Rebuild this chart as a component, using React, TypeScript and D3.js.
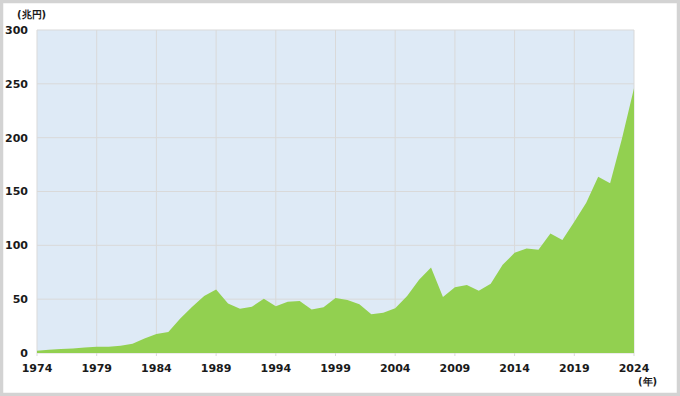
import React from "react";
import * as d3 from "d3";

const years: number[] = [
  1974, 1975, 1976, 1977, 1978, 1979, 1980, 1981, 1982, 1983,
  1984, 1985, 1986, 1987, 1988, 1989, 1990, 1991, 1992, 1993,
  1994, 1995, 1996, 1997, 1998, 1999, 2000, 2001, 2002, 2003,
  2004, 2005, 2006, 2007, 2008, 2009, 2010, 2011, 2012, 2013,
  2014, 2015, 2016, 2017, 2018, 2019, 2020, 2021, 2022, 2023, 2024,
];
const values: number[] = [
  2.2, 3, 3.8, 4.2, 5, 5.8, 5.8, 6.8, 8.6, 13.5,
  17.6, 19.5, 32, 43, 53, 59, 46, 41, 43, 50.5,
  43.5, 47.7, 48.4, 40.5, 42.5, 51, 49.3, 45.3, 36, 37.4,
  41.5, 53, 68, 79.5, 52, 61, 63.2, 57.8, 64.4, 82,
  93, 97, 96, 111, 105, 122, 139.5, 163.7, 157.6, 199.4, 245.8,
];
const xTicks: number[] = [1974, 1979, 1984, 1989, 1994, 1999, 2004, 2009, 2014, 2019, 2024];
const yTicks: number[] = [0, 50, 100, 150, 200, 250, 300];
const yUnit = "(兆円)";
const xUnit = "(年)";

const W = 680;
const H = 396;
const left = 37;
const right = 634;
const top = 30;
const bottom = 353;
const font = "'DejaVu Sans', Verdana, sans-serif";

export default function App() {
  const x = d3.scaleLinear().domain([1974, 2024]).range([left, right]);
  const y = d3.scaleLinear().domain([0, 300]).range([bottom, top]);
  const data = years.map((yr, i) => ({ yr, v: values[i] }));
  const area = d3
    .area<{ yr: number; v: number }>()
    .x((d) => x(d.yr))
    .y0(y(0))
    .y1((d) => y(d.v));

  return (
    <svg
      width={W}
      height={H}
      style={{ position: "fixed", left: 0, top: 0, display: "block" }}
      fontFamily={font}
    >
      <rect x={0} y={0} width={W} height={H} fill="#ffffff" />
      <rect x={1.5} y={1.5} width={W - 3} height={H - 3} fill="none" stroke="#d3d3d3" strokeWidth={3.5} />
      <rect x={left} y={top} width={right - left} height={bottom - top} fill="#deeaf6" />
      {yTicks.map((t) => (
        <line key={"gy" + t} x1={left} x2={right} y1={y(t)} y2={y(t)} stroke="#d9d9d9" strokeWidth={1} />
      ))}
      {xTicks.map((t) => (
        <line key={"gx" + t} x1={x(t)} x2={x(t)} y1={top} y2={bottom + 3} stroke="#d9d9d9" strokeWidth={1} />
      ))}
      <path d={area(data) || ""} fill="#92d050" />
      {yTicks.map((t) => (
        <text
          key={"ty" + t}
          x={28}
          y={y(t)}
          dy="0.36em"
          textAnchor="end"
          fontSize={11}
          fontWeight="bold"
          fill="#1a1a1a"
        >
          {t}
        </text>
      ))}
      {xTicks.map((t) => (
        <text
          key={"tx" + t}
          x={x(t)}
          y={372}
          textAnchor="middle"
          fontSize={11}
          fontWeight="bold"
          fill="#1a1a1a"
        >
          {t}
        </text>
      ))}
      <text x={17} y={18} fontSize={10} fontWeight="bold" fill="#1a1a1a">
        {yUnit}
      </text>
      <text x={638} y={385} fontSize={10} fontWeight="bold" fill="#1a1a1a">
        {xUnit}
      </text>
    </svg>
  );
}
